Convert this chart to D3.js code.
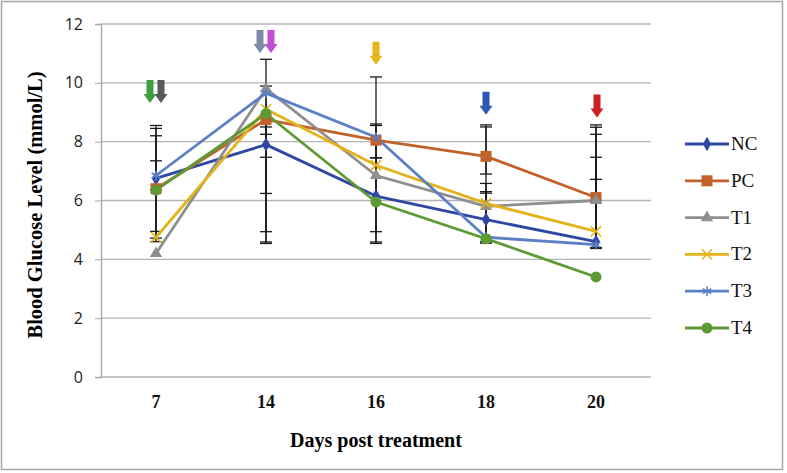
<!DOCTYPE html>
<html><head><meta charset="utf-8">
<script src="https://cdn.jsdelivr.net/npm/d3@7"></script>
<style>body{margin:0;background:#fff}svg{display:block}</style>
</head><body>
<svg id="c" width="787" height="473"></svg>
<script>
const days = ["7", "14", "16", "18", "20"];
const seriesNames = ["NC", "PC", "T1", "T2", "T3", "T4"];
const NC = [6.75, 7.9, 6.15, 5.35, 4.6];
const PC = [6.4, 8.75, 8.05, 7.5, 6.1];
const T1 = [4.2, 9.8, 6.85, 5.8, 6.0];
const T2 = [4.75, 9.1, 7.2, 5.9, 4.95];
const T3 = [6.85, 9.65, 8.15, 4.75, 4.5];
const T4 = [6.35, 8.95, 5.95, 4.7, 3.4];
// error bars (minus, plus) per series per day
const errNC = [[1.8, 1.8], [0.43, 0.35], [1.21, 1.3], [0.8, 1.23], [0, 2.87]];
const errPC = [[1.8, 1.8], [2.51, 0], [3.46, 0.55], [0.6, 1.07], [1.7, 2.47]];
const errT1 = [[0, 0], [5.21, 0.09], [0, 0], [0, 0.5], [0, 2.49]];
const errT2 = [[0, 0], [4.56, 0], [2.66, 3.0], [1.3, 2.6], [0, 3.3]];
const errT3 = [[0.5, 0.5], [1.15, 1.15], [0.7, 0.4], [0, 1.5], [0.13, 2.22]];
const errT4 = [[1.63, 2.1], [4.01, 0], [0, 0], [0, 0], [0, 0]];
const yTicks = [0, 2, 4, 6, 8, 10, 12];
const arrowDays = ["7", "7", "14", "14", "16", "18", "20"];
const arrowColors = ["#3f9f3f", "#595959", "#7c8aa6", "#c34fd1", "#e6b41c", "#2d58b4", "#cc1f24"];
const arrowOffsets = [-6, 5, -6, 5, 0, 0, 1];
const arrowTops = [10.1, 10.1, 11.8, 11.8, 11.4, 9.7, 9.6];

const colors = {NC: "#2e47a3", PC: "#c0622a", T1: "#8f8f8f", T2: "#e2b31b", T3: "#5a80c6", T4: "#5c9a33"};
const values = {NC, PC, T1, T2, T3, T4};
const errs = {NC: errNC, PC: errPC, T1: errT1, T2: errT2, T3: errT3, T4: errT4};

const svg = d3.select("#c");
svg.append("rect").attr("x", 1.5).attr("y", 1.5).attr("width", 781).attr("height", 468)
  .attr("fill", "#fff").attr("stroke", "#a6a6a6").attr("stroke-width", 1.5);

const x = d3.scaleBand().domain(days).range([101, 651]);
const y = d3.scaleLinear().domain([0, 12]).range([377, 24]);
const cx = d => x(d) + x.bandwidth() / 2;

// gridlines
svg.append("g").selectAll("line").data(yTicks).join("line")
  .attr("x1", 101).attr("x2", 651).attr("y1", d => y(d)).attr("y2", d => y(d))
  .attr("stroke", "#b4b4b4").attr("stroke-width", 1.3);

// y axis
const yAxis = svg.append("g").attr("transform", "translate(101,0)")
  .call(d3.axisLeft(y).tickValues(yTicks).tickSize(6).tickPadding(12));
yAxis.select(".domain").attr("stroke", "#a6a6a6").attr("stroke-width", 1.3);
yAxis.selectAll(".tick line").attr("stroke", "#a6a6a6");
yAxis.selectAll("text").attr("font-family", "Open Sans, sans-serif").attr("font-size", 16).attr("fill", "#222");

// x axis labels
const xAxis = svg.append("g").attr("transform", "translate(0,377)")
  .call(d3.axisBottom(x).tickSize(0).tickPadding(18));
xAxis.select(".domain").remove();
xAxis.selectAll("text").attr("font-family", "Liberation Serif, Times New Roman, serif")
  .attr("font-weight", "bold").attr("font-size", 18).attr("fill", "#111");

// axis titles
svg.append("text").attr("x", 376).attr("y", 447).attr("text-anchor", "middle")
  .attr("font-family", "Liberation Serif, serif").attr("font-weight", "bold").attr("font-size", 20)
  .text("Days post treatment");
svg.append("text").attr("transform", "translate(42,205) rotate(-90)").attr("text-anchor", "middle")
  .attr("font-family", "Liberation Serif, serif").attr("font-weight", "bold").attr("font-size", 20.5)
  .text("Blood Glucose Level (mmol/L)");

// error bars
const eg = svg.append("g").attr("stroke", "#1a1a1a").attr("stroke-width", 1.3);
seriesNames.forEach(s => {
  days.forEach((d, i) => {
    const v = values[s][i], [m, p] = errs[s][i];
    const X = cx(d);
    if (m === 0 && p === 0) return;
    eg.append("line").attr("x1", X).attr("x2", X).attr("y1", y(v - m)).attr("y2", y(v + p));
    [m ? v - m : null, p ? v + p : null].filter(e => e !== null).forEach(e => {
      eg.append("line").attr("x1", X - 6).attr("x2", X + 6).attr("y1", y(e)).attr("y2", y(e));
    });
  });
});

// lines
const line = d3.line().x((v, i) => cx(days[i])).y(v => y(v));
seriesNames.forEach(s => {
  svg.append("path").datum(values[s]).attr("d", line).attr("fill", "none")
    .attr("stroke", colors[s]).attr("stroke-width", 2.8).attr("stroke-linejoin", "round");
});

function marker(g, s, X, Y, sc) {
  sc = sc || 1;
  const c = colors[s];
  if (s === "NC") g.append("path").attr("d", d3.symbol(d3.symbolDiamond, 60 * sc)()).attr("transform", `translate(${X},${Y})`).attr("fill", c);
  if (s === "PC") g.append("rect").attr("x", X - 5.5 * sc).attr("y", Y - 5.5 * sc).attr("width", 11 * sc).attr("height", 11 * sc).attr("fill", c);
  if (s === "T1") g.append("path").attr("d", d3.symbol(d3.symbolTriangle, 65 * sc)()).attr("transform", `translate(${X},${Y})`).attr("fill", c);
  if (s === "T2") g.append("path").attr("d", d3.symbol(d3.symbolTimes, 70 * sc)()).attr("transform", `translate(${X},${Y})`).attr("fill", "none").attr("stroke", c).attr("stroke-width", 1.6);
  if (s === "T3") g.append("path").attr("d", d3.symbol(d3.symbolAsterisk, 70 * sc)()).attr("transform", `translate(${X},${Y})`).attr("fill", "none").attr("stroke", c).attr("stroke-width", 1.5);
  if (s === "T4") g.append("circle").attr("cx", X).attr("cy", Y).attr("r", 5.5 * sc).attr("fill", c);
}
const mg = svg.append("g");
seriesNames.forEach(s => values[s].forEach((v, i) => marker(mg, s, cx(days[i]), y(v))));

// arrows
arrowDays.forEach((d, i) => {
  const X = cx(d) + arrowOffsets[i], top = y(arrowTops[i]);
  const pts = [[X - 3.5, top], [X + 3.5, top], [X + 3.5, top + 14], [X + 6.5, top + 14], [X, top + 23], [X - 6.5, top + 14], [X - 3.5, top + 14]];
  svg.append("polygon").attr("points", pts.map(p => p.join(",")).join(" ")).attr("fill", arrowColors[i]);
});

// legend
const lg = svg.append("g");
seriesNames.forEach((s, i) => {
  const Y = 144 + i * 36.8;
  lg.append("line").attr("x1", 685).attr("x2", 729).attr("y1", Y).attr("y2", Y).attr("stroke", colors[s]).attr("stroke-width", 2.8);
  marker(lg, s, 707, Y);
  lg.append("text").attr("x", 731).attr("y", Y + 6).attr("font-family", "Liberation Serif, serif").attr("font-size", 19).attr("fill", "#111").text(s);
});
</script>
</body></html>
